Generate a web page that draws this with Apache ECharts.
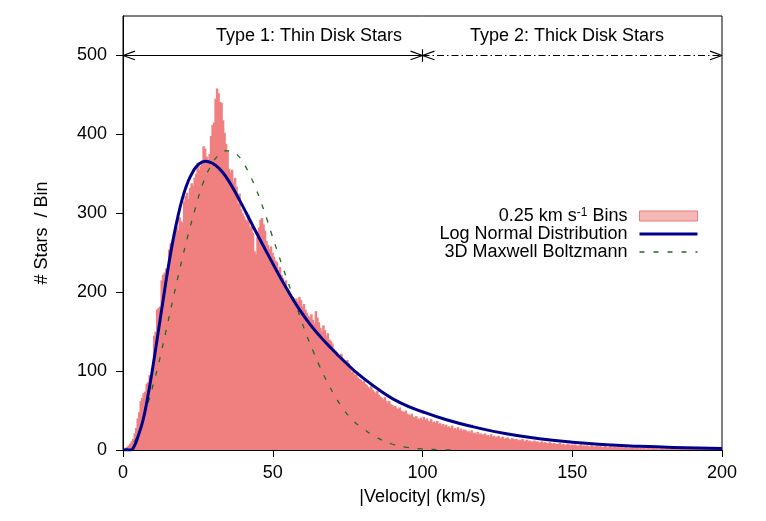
<!DOCTYPE html>
<html>
<head>
<meta charset="utf-8">
<script src="https://cdn.jsdelivr.net/npm/echarts@6/dist/echarts.min.js"></script>
<style>
html,body{margin:0;padding:0;background:#fff;}
#chart{width:766px;height:521px;}
</style>
</head>
<body>
<div id="chart"></div>
<script>
// ---------- data ----------
var binWidth = 0.5; // km/s per drawn bin
var counts = [
  1,3,4,6,8,11,14,21,28,40,
  48,62,66,72,74,84,86,95,92,98,
  145,150,178,180,182,215,222,225,230,224,
  254,262,258,270,276,283,278,295,290,288,
  315,322,326,318,332,338,335,345,350,364,
  355,360,366,385,382,372,368,375,398,412,
  415,445,458,452,441,440,418,402,388,380,
  356,352,355,340,345,334,312,325,305,300,
  296,292,290,298,282,284,275,252,248,270,
  282,292,294,286,278,265,260,255,258,250,
  245,240,238,228,232,222,218,210,215,205,
  202,198,195,190,186,192,188,194,190,182,
  185,178,174,170,168,172,165,160,176,168,
  162,155,150,158,152,145,148,140,138,135,
  128,126,124,120,118,122,115,112,108,114,
  110,104,98,100,95,96,92,90,89,86,
  88,84,82,80,78,81,76,74,72,75,
  70,68,66,64,67,62,60,62,58,57,
  55,56,53,52,54,50,49,48,50,46,
  45,44,46,42,41,43,40,39,41,38,
  42,38,40,37,36,39,35,36,34,37,
  33,34,31,33,30,32,29,30,28,31,
  27,28,26,29,25,27,24,26,25,23,
  24,22,25,21,22,20,23,20,21,19,
  20,21,18,19,17,20,17,18,16,17,
  18,15,16,17,14,15,16,14,13,15,
  14,13,14,12,13,12,14,11,12,13,
  11,12,10,11,12,10,11,9,10,11,
  9,10,9,8,10,9,8,9,8,7,
  8,9,7,8,7,6,8,7,6,7,
  6,7,6,5,6,7,5,6,5,6,
  5,4,6,5,4,5,5,4,5,4,
  4,5,4,3,4,5,3,4,4,3,
  4,3,4,3,3,4,3,2,3,3,
  3,2,3,3,2,3,2,3,2,2,
  3,2,2,3,2,2,2,1,2,2,
  2,1,2,2,1,2,1,2,1,1,
  2,1,1,2,1,1,1,2,1,1,
  1,1,2,1,1,1,1,1,1,0,
  1,1,0,1,1,0,1,1,0,1
];
var binStarts = counts.map(function (c, i) { return i * binWidth; });

var lnVel = [0,2.5,3.9,5,6.7,8.3,10,11.7,13.4,15,16.7,18.4,20,21.7,23.4,25,27.5,30,32.3,34.5,36.7,39,41.2,43.5,45.7,49,52.4,55.8,59.1,62.4,65.8,69.1,72.5,75.8,79.1,85.8,92.5,100,108,117,128,139,150,161.5,172.6,183.7,200];
var lnVal = [0,0,6,17,38,68,106,148,190,229,266,297,321,340,353,361,366,363,356,345.5,332,316,300,283,267,243.5,219.5,197,177,159.5,144,130.5,117.5,105.5,94.5,75.5,60,48.5,38.3,29.3,20.5,14.3,9.8,6.7,4.6,3.2,2];

var mbVel = [0,1.7,4,6,7.8,10.3,12,15,16.5,18.4,20,22.3,23.9,25,26.7,28.9,31.7,34,36.2,38,40,42.4,44.6,46.3,48,49.6,51.3,53,54.7,56.3,58,59.7,61.3,63.5,65.5,67.8,70.2,73,76.4,80.2,84.7,89.7,94.7,99.7,104.7,110];
var mbVal = [0,2.5,12,30,52,86,111,162,188,220,246,281,303,318,338,357,373,379,379,374.5,365,348,329,312,293,274,254.5,235.5,217,199.5,181,162.5,145.5,125,107.5,89,72,55,39,27,16,7.6,3.4,1.3,0.5,0.2];

var xTicks = [0,50,100,150,200];
var yTicks = [0,100,200,300,400,500];

var histName = '0.25 km s^-1 Bins';
var lnName = 'Log Normal Distribution';
var mbName = '3D Maxwell Boltzmann';
var regionLabels = ['Type 1: Thin Disk Stars', 'Type 2: Thick Disk Stars'];
var regionBounds = [0, 100, 200];
var arrowLevel = 500;

// ---------- chart ----------
var FONT = '"Liberation Sans", Arial, sans-serif';
var chart = echarts.init(document.getElementById('chart'), null, {renderer: 'canvas'});

function pairs(xs, ys) { return xs.map(function (x, i) { return [x, ys[i]]; }); }
function annot(data, dash) {
  return {
    type: 'line', data: data, symbol: 'none', silent: true, animation: false, z: 10,
    lineStyle: {color: '#000', width: 1.1, type: dash || 'solid'}
  };
}
var a0 = regionBounds[0], a1 = regionBounds[1], a2 = regionBounds[2], L = arrowLevel;
var ax = 4, ay = 5.5, tk = 8;
var mbDash = [5, 9];

chart.setOption({
  animation: false,
  backgroundColor: '#fff',
  grid: {left: 123, right: 44, top: 16, bottom: 71, show: true, borderColor: '#000', borderWidth: 1},
  xAxis: {
    type: 'value', min: 0, max: 200, interval: 50,
    axisLine: {lineStyle: {color: '#000', width: 1}},
    axisTick: {length: 7, lineStyle: {color: '#000'}, customValues: xTicks},
    axisLabel: {color: '#000', fontSize: 18, fontFamily: FONT, margin: 14, customValues: xTicks},
    splitLine: {show: false},
    name: '|Velocity| (km/s)', nameLocation: 'middle', nameGap: 38,
    nameTextStyle: {color: '#000', fontSize: 18, fontFamily: FONT}
  },
  yAxis: {
    type: 'value', min: 0, max: 550,
    axisLine: {show: true, lineStyle: {color: '#000', width: 1}},
    axisTick: {show: true, length: 7, lineStyle: {color: '#000'}, customValues: yTicks},
    axisLabel: {color: '#000', fontSize: 18, fontFamily: FONT, margin: 16, customValues: yTicks},
    splitLine: {show: false},
    name: '# Stars  / Bin', nameLocation: 'middle', nameGap: 72,
    nameTextStyle: {color: '#000', fontSize: 18, fontFamily: FONT}
  },
  legend: {
    orient: 'vertical', right: 62, top: 202, align: 'right',
    itemWidth: 58, itemHeight: 10, itemGap: 0,
    textStyle: {
      color: '#000', fontSize: 18, fontFamily: FONT, lineHeight: 18, padding: [0, 7, 0, 0],
      rich: {sup: {fontSize: 12, fontFamily: FONT, color: '#000', verticalAlign: 'top', lineHeight: 18}}
    },
    formatter: function (n) { return n === histName ? '0.25 km s{sup|-1} Bins' : n; },
    data: [
      {name: histName, icon: 'rect', itemStyle: {color: '#F6B7B7', borderColor: '#EE7B7B', borderWidth: 1}},
      {name: lnName, itemStyle: {opacity: 0}, lineStyle: {color: '#00008B', width: 3}},
      {name: mbName, itemStyle: {opacity: 0}, lineStyle: {color: '#1F6B1F', width: 1.3, type: mbDash}}
    ]
  },
  graphic: [
    {type: 'text', x: 309, y: 36, silent: true,
     style: {text: regionLabels[0], font: '18px ' + FONT, fill: '#000', align: 'center', verticalAlign: 'middle'}},
    {type: 'text', x: 567, y: 36, silent: true,
     style: {text: regionLabels[1], font: '18px ' + FONT, fill: '#000', align: 'center', verticalAlign: 'middle'}}
  ],
  series: [
    {
      name: histName, type: 'custom', clip: true,
      itemStyle: {color: '#F08080'},
      encode: {x: 0, y: 1},
      data: pairs(binStarts, counts),
      renderItem: function (params, api) {
        var s = api.value(0), c = api.value(1);
        var tl = api.coord([s, c]);
        var br = api.coord([s + binWidth, 0]);
        return {type: 'rect', shape: {x: tl[0], y: tl[1], width: br[0] - tl[0] + 1, height: br[1] - tl[1]},
                style: {fill: '#F08080'}};
      }
    },
    {
      name: mbName, type: 'line', data: pairs(mbVel, mbVal), symbol: 'none', showSymbol: false,
      smooth: 0.5, z: 4,
      itemStyle: {color: '#1F6B1F'},
      lineStyle: {color: '#1F6B1F', width: 1.3, type: mbDash}
    },
    {
      name: lnName, type: 'line', data: pairs(lnVel, lnVal), symbol: 'none', showSymbol: false,
      smooth: 0.5, z: 5,
      itemStyle: {color: '#00008B'},
      lineStyle: {color: '#00008B', width: 3}
    },
    annot([[a0, L], [a1, L]]),
    annot([[a0 + ax, L + ay], [a0, L], [a0 + ax, L - ay]]),
    annot([[a1 - ax, L + ay], [a1, L], [a1 - ax, L - ay]]),
    annot([[a1, L + tk], [a1, L - tk]]),
    annot([[a1, L], [a2, L]], [7, 3, 1.5, 3]),
    annot([[a1 + ax, L + ay], [a1, L], [a1 + ax, L - ay]]),
    annot([[a2 - ax, L + ay], [a2, L], [a2 - ax, L - ay]])
  ]
});
</script>
</body>
</html>
